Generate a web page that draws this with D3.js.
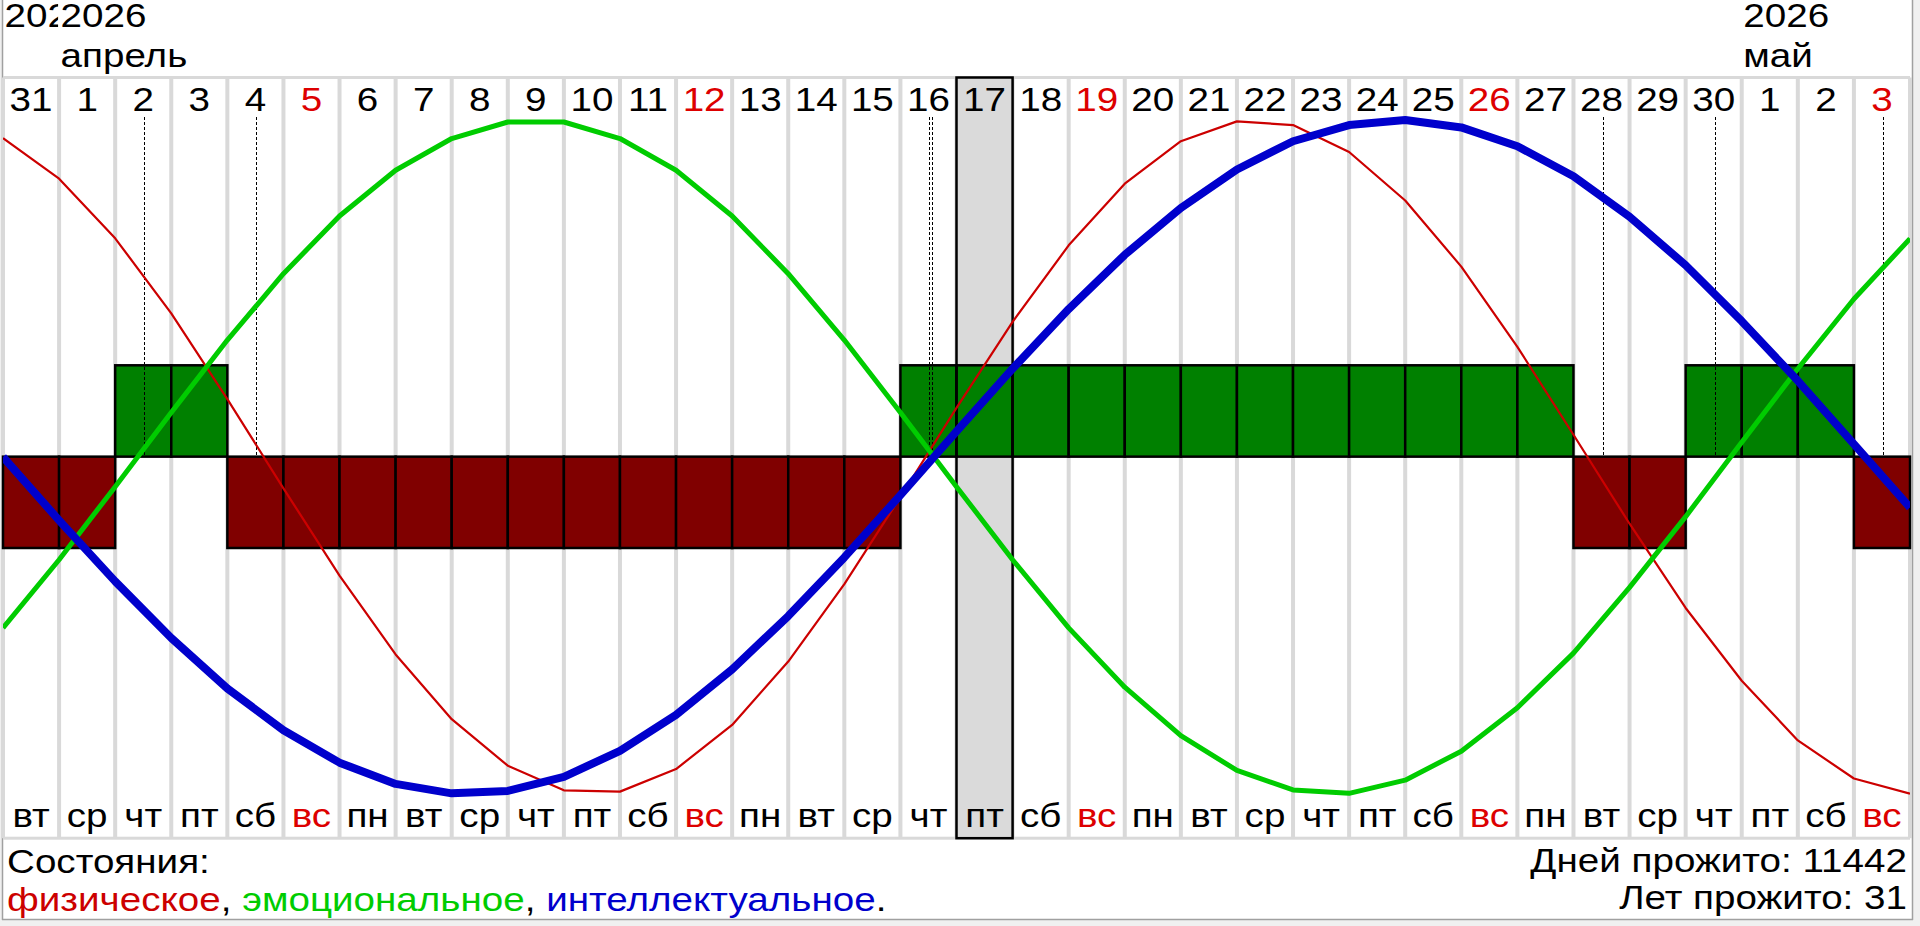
<!DOCTYPE html>
<html><head><meta charset="utf-8">
<script src="https://cdn.jsdelivr.net/npm/d3@7"></script>
<style>html,body{margin:0;padding:0;background:#f0f0f0;overflow:hidden}</style>
</head><body>
<svg id="c" width="1920" height="926"></svg>
<script>
// ---- data ----
const dayLabels = ["31","1","2","3","4","5","6","7","8","9","10","11","12","13","14","15","16","17","18","19","20","21","22","23","24","25","26","27","28","29","30","1","2","3"];
const weekdayLabels = ["вт","ср","чт","пт","сб","вс","пн","вт","ср","чт","пт","сб","вс","пн","вт","ср","чт","пт","сб","вс","пн","вт","ср","чт","пт","сб","вс","пн","вт","ср","чт","пт","сб","вс"];
// curve values at column boundaries 0..34
const physical = [0.946,0.826,0.649,0.426,0.172,-0.093,-0.352,-0.586,-0.778,-0.916,-0.989,-0.993,-0.926,-0.795,-0.607,-0.377,-0.119,0.146,0.401,0.628,0.811,0.937,0.996,0.985,0.905,0.761,0.565,0.327,0.066,-0.198,-0.448,-0.664,-0.841,-0.954,-0.999];
const emotional = [-0.507,-0.305,-0.088,0.132,0.347,0.544,0.715,0.851,0.945,0.994,0.994,0.945,0.851,0.715,0.544,0.347,0.132,-0.088,-0.305,-0.507,-0.683,-0.827,-0.930,-0.988,-0.998,-0.959,-0.873,-0.744,-0.582,-0.387,-0.177,0.044,0.262,0.469,0.648];
const intellectual = [0.000,-0.188,-0.369,-0.537,-0.687,-0.811,-0.907,-0.970,-0.998,-0.991,-0.949,-0.872,-0.765,-0.630,-0.472,-0.298,-0.113,0.076,0.262,0.439,0.600,0.739,0.853,0.937,0.985,1.000,0.978,0.922,0.833,0.713,0.569,0.403,0.226,0.038,-0.150];
const barStates = [-1,-1,1,1,-1,-1,-1,-1,-1,-1,-1,-1,-1,-1,-1,-1,1,1,1,1,1,1,1,1,1,1,1,1,-1,-1,1,1,1,-1];
const criticalDays = [2,4,16,16,28,30,33];
const selectedDay = 17;
const monthLabelCols = [0,1,31];
const monthLabelYears = ["2026","2026","2026"];
const monthLabelNames = ["","апрель","май"];
const legendNames = ["физическое","эмоциональное","интеллектуальное"];
const seriesColors = ["#cc0000","#00cc00","#0000cc"];
const statsLines = ["Дней прожито: 11442","Лет прожито: 31"];
const titleText = "Состояния:";

// ---- layout ----
const FONT = "'Liberation Sans', Arial, sans-serif";
const FS = 33;
const SX = 1.17;
const svg = d3.select("#c");
const nCols = dayLabels.length;
const x = d3.scaleLinear().domain([0, nCols]).range([3, 1910]);
const y = d3.scaleLinear().domain([-1, 1]).range([794, 120]);
const yBar = d3.scaleLinear().domain([-1, 1]).range([548, 365.3]);
const plotTop = 77.5, plotBottom = 838.2;
const holidayRed = "#dd0000";
const isHoliday = i => weekdayLabels[i] === "вс";

function addText(parent, tx, ty, str, color, anchor){
  return parent.append("text")
    .attr("transform",`translate(${tx},${ty}) scale(${SX},1)`)
    .attr("text-anchor",anchor||"start")
    .attr("font-family",FONT).attr("font-size",FS)
    .attr("fill",color||"#000").text(str);
}

// background panel
svg.append("rect").attr("x",0).attr("y",0).attr("width",1920).attr("height",926).attr("fill","#f0f0f0");
svg.append("rect").attr("x",2).attr("y",0).attr("width",1911).attr("height",919.5).attr("fill","#ffffff");
svg.append("line").attr("x1",2.5).attr("x2",2.5).attr("y1",0).attr("y2",920).attr("stroke","#a0a0a0").attr("stroke-width",1.5);
svg.append("line").attr("x1",1912.5).attr("x2",1912.5).attr("y1",0).attr("y2",920).attr("stroke","#a0a0a0").attr("stroke-width",1.5);
svg.append("line").attr("x1",2).attr("x2",1913).attr("y1",919.5).attr("y2",919.5).attr("stroke","#a0a0a0").attr("stroke-width",1.5);

const defs = svg.append("defs");
defs.append("clipPath").attr("id","plotclip").append("rect")
  .attr("x",x(0)).attr("y",plotTop).attr("width",x(nCols)-x(0)).attr("height",plotBottom-plotTop);

// highlighted column fill
svg.append("rect").attr("x",x(selectedDay)).attr("y",plotTop).attr("width",x(selectedDay+1)-x(selectedDay))
  .attr("height",plotBottom-plotTop).attr("fill","#dadada");

// gray separators
svg.append("g").selectAll("rect").data(d3.range(0, nCols+1)).join("rect")
  .attr("x",d=>x(d)-2).attr("y",plotTop).attr("width",4).attr("height",plotBottom-plotTop)
  .attr("fill","#d9d9d9");
svg.append("rect").attr("x",x(0)).attr("y",plotTop-1.5).attr("width",x(nCols)-x(0)).attr("height",3).attr("fill","#d9d9d9");
svg.append("rect").attr("x",x(0)).attr("y",plotBottom-1.5).attr("width",x(nCols)-x(0)).attr("height",3).attr("fill","#d9d9d9");

// month / year labels
monthLabelCols.forEach((c,i)=>{
  const lx = x(c)+1.5;
  const nextX = i+1 < monthLabelCols.length ? x(monthLabelCols[i+1]) : 1912;
  const id = "mclip"+i;
  defs.append("clipPath").attr("id",id).append("rect").attr("x",lx-2).attr("y",0).attr("width",nextX-lx+1).attr("height",76);
  const g = svg.append("g").attr("clip-path",`url(#${id})`);
  addText(g, lx, 26.7, monthLabelYears[i]);
  addText(g, lx, 66.7, monthLabelNames[i]);
});

// day numbers
const dg = svg.append("g");
dayLabels.forEach((d,i)=>addText(dg,(x(i)+x(i+1))/2,110.7,d,isHoliday(i)?holidayRed:"#000","middle"));

// weekday labels
const wg = svg.append("g");
weekdayLabels.forEach((d,i)=>addText(wg,(x(i)+x(i+1))/2,826.7,d,isHoliday(i)?holidayRed:"#000","middle"));

// state bars
svg.append("g").selectAll("rect").data(barStates).join("rect")
  .attr("x",(d,i)=>x(i)).attr("width",(d,i)=>x(i+1)-x(i))
  .attr("y",d=>Math.min(yBar(d),yBar(0))).attr("height",d=>Math.abs(yBar(d)-yBar(0)))
  .attr("fill",d=>d>0?"#008000":"#800000").attr("stroke","#000").attr("stroke-width",2.5);

// highlight border
svg.append("rect").attr("x",x(selectedDay)).attr("y",plotTop).attr("width",x(selectedDay+1)-x(selectedDay))
  .attr("height",plotBottom-plotTop).attr("fill","none").attr("stroke","#000").attr("stroke-width",2.5);

// critical day dotted lines
const seen = {};
const offs = criticalDays.map(d=>{ const o=(seen[d]||0); seen[d]=o+1; return o*3; });
svg.append("g").selectAll("line").data(criticalDays).join("line")
  .attr("x1",(d,i)=>Math.round((x(d)+x(d+1))/2)+1.5+offs[i])
  .attr("x2",(d,i)=>Math.round((x(d)+x(d+1))/2)+1.5+offs[i])
  .attr("y1",117).attr("y2",yBar(0))
  .attr("stroke","#000").attr("stroke-width",1).attr("stroke-dasharray","3,2");

// curves
const line = d3.line().x((d,i)=>x(i)).y(d=>y(d));
const curves = svg.append("g").attr("clip-path","url(#plotclip)");
[[physical,2.2],[emotional,5],[intellectual,8]].forEach(([vals,w],i)=>{
  curves.append("path").datum(vals).attr("d",line).attr("fill","none")
    .attr("stroke",seriesColors[i]).attr("stroke-width",w).attr("stroke-linejoin","round");
});

// bottom texts
addText(svg, 7, 873, titleText);
const lg = svg.append("text").attr("transform",`translate(7,911) scale(${SX},1)`)
  .attr("font-family",FONT).attr("font-size",FS);
legendNames.forEach((n,i)=>{
  lg.append("tspan").attr("fill",seriesColors[i]).text(n);
  lg.append("tspan").attr("fill","#000").text(i<legendNames.length-1?", ":".");
});
statsLines.forEach((s,i)=>addText(svg, 1907, 872+i*36.5, s, "#000", "end"));
</script>
</body></html>
